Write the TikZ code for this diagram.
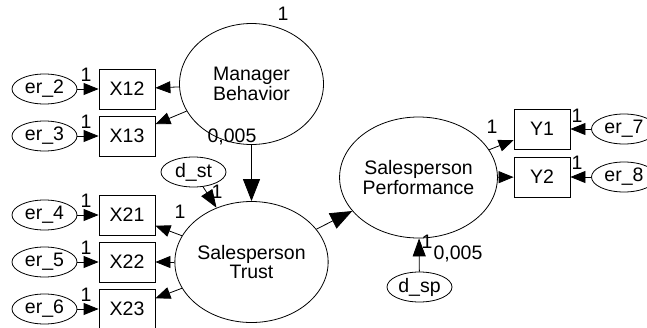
\documentclass[tikz,border=0pt]{standalone}
\usepackage{fontspec}
\setmainfont{Liberation Sans}
\usetikzlibrary{shapes.geometric,arrows.meta}
\begin{document}
\begin{tikzpicture}[x=1pt,y=-1pt,
  font=\fontsize{19.5}{19.5}\selectfont,
  every node/.style={inner sep=0pt},
  latent/.style={draw,ellipse,line width=0.8pt,minimum width=144pt,minimum height=121pt,align=center},
  err/.style={draw,ellipse,line width=0.8pt,minimum width=65pt,minimum height=30pt},
  obs/.style={draw,rectangle,line width=0.8pt,minimum width=56pt,minimum height=40pt},
  lbl/.style={inner sep=0pt},
  sarrow/.style={line width=0.8pt,-{Triangle[length=15pt,width=12pt]}},
  barrow/.style={line width=0.8pt,-{Triangle[length=22pt,width=17pt]}},
  darrow/.style={line width=0.8pt,-{Triangle[length=18pt,width=13pt]}}]
\useasboundingbox (0,0) rectangle (647,327);
\clip (0,0) rectangle (647,327);
% latent variables
\node[latent] (MB) at (251.5,84) {Manager\\Behavior};
\node[latent] (ST) at (251.5,262) {Salesperson\\Trust};
\node[latent] (SP) at (418.5,177.5) {Salesperson\\Performance};
% observed
\node[obs] (X12) at (127,89) {X12};
\node[obs] (X13) at (127,136) {X13};
\node[obs] (X21) at (127,215) {X21};
\node[obs] (X22) at (127,262) {X22};
\node[obs] (X23) at (127,309) {X23};
\node[obs] (Y1) at (542,129) {Y1};
\node[obs] (Y2) at (542,177) {Y2};
% errors
\node[err] (e2) at (44.5,89) {er\_2};
\node[err] (e3) at (44.5,136) {er\_3};
\node[err] (e4) at (44.5,215) {er\_4};
\node[err] (e5) at (44.5,262) {er\_5};
\node[err] (e6) at (44.5,309) {er\_6};
\node[err] (e7) at (624,129) {er\_7};
\node[err] (e8) at (624,177) {er\_8};
\node[err] (dst) at (193.5,172) {d\_st};
\node[err] (dsp) at (419.5,287) {d\_sp};
% arrows
\draw[sarrow] (e2) -- (X12);
\draw[sarrow] (e3) -- (X13);
\draw[sarrow] (e4) -- (X21);
\draw[sarrow] (e5) -- (X22);
\draw[sarrow] (e6) -- (X23);
\draw[sarrow] (e7) -- (Y1);
\draw[sarrow] (e8) -- (Y2);
\draw[sarrow] (MB) -- (X12);
\draw[sarrow] (MB) -- (X13);
\draw[sarrow] (ST) -- (X21);
\draw[sarrow] (ST) -- (X22);
\draw[sarrow] (ST) -- (X23);
\draw[sarrow] (SP) -- (Y1);
\draw[sarrow] (SP) -- (Y2);
\draw[barrow] (MB) -- (ST);
\draw[barrow] (ST) -- (SP);
\draw[darrow] (dst) -- (ST);
\draw[darrow] (dsp) -- (SP);
% labels
\node[lbl] (l0) at (283,14) {1};
\node[lbl] (l1) at (232,137) {0,005};
\node[lbl] (l2) at (86,75) {1};
\node[lbl] (l3) at (86,122) {1};
\node[lbl] (l4) at (86,201) {1};
\node[lbl] (l5) at (86,248) {1};
\node[lbl] (l6) at (86,295) {1};
\node[lbl] (l7) at (577,116) {1};
\node[lbl] (l8) at (577,163) {1};
\node[lbl] (l9) at (180,212) {1};
\node[lbl] (l10) at (217,192) {1};
\node[lbl] (l11) at (492,127) {1};
\node[lbl] (l12) at (427,242) {1};
\node[lbl] (l13) at (458,254) {0,005};
\end{tikzpicture}
\end{document}
